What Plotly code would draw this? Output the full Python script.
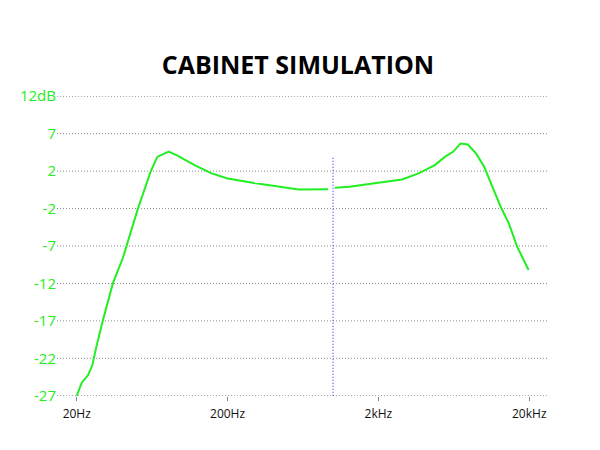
import plotly.graph_objects as go
import numpy as np

# Frequency response (Hz, dB); None marks the gap at 1 kHz
freq_hz = [20, 21.6, 23.8, 25.4, 27.0, 29.9, 34.8, 40.4, 50.6, 55.9, 61.8, 68.4, 81.5,
           92.4, 121.8, 156.6, 200, 300, 471, 591, 928, None,
           1027, 1287, 1644, 2124, 2870, 3690, 4736, 5508, 6252, 7006, 7832, 8872,
           10052, 11404, 12926, 14644, 16620, 19790]
gain_db = [-27, -25.3, -24.3, -23.0, -20.6, -17.1, -12.3, -9.1, -2.8, -0.2, 2.2, 4.1, 4.8,
           4.3, 3.0, 1.95, 1.3, 0.7, 0.13, -0.13, -0.1, None,
           0.08, 0.21, 0.52, 0.86, 1.17, 1.95, 3.03, 4.1, 4.76, 5.85, 5.72, 4.55,
           2.81, 0.21, -2.39, -4.55, -7.59, -10.62]

x_tickvals = [20, 200, 2000, 20000]
x_ticktext = ["20Hz", "200Hz", "2kHz", "20kHz"]
y_min, y_max = -27, 12
y_ticktext = ["12dB", "7", "2", "-2", "-7", "-12", "-17", "-22", "-27"]
marker_freq = 1000
marker_top_db = 4

GREEN = "#22ee22"
y_tickvals = list(np.linspace(y_max, y_min, len(y_ticktext)))

fig = go.Figure()
fig.add_trace(go.Scatter(x=freq_hz, y=gain_db, mode="lines",
                         line=dict(color=GREEN, width=2), connectgaps=False,
                         hoverinfo="skip", showlegend=False))
fig.add_trace(go.Scatter(x=[marker_freq, marker_freq], y=[y_min, marker_top_db], mode="lines",
                         line=dict(color="#1a1aff", width=1, dash="1px,2px"),
                         hoverinfo="skip", showlegend=False))

# dotted horizontal gridlines at every y tick (drawn as shapes so the edge ones show)
for v in y_tickvals:
    fig.add_shape(type="line", xref="paper", x0=0, x1=1, yref="y", y0=v, y1=v,
                  line=dict(color="#8a8a8a", width=1, dash="1px,2px"), layer="below")

x_lo = np.log10(20) - 20 / 153
x_hi = np.log10(20) + 477 / 153
pad = 0.03

fig.update_layout(
    width=600, height=450,
    margin=dict(l=42, r=61, t=88, b=62),
    paper_bgcolor="white", plot_bgcolor="white",
    title=dict(text="<b>CABINET SIMULATION</b>", x=290 / 600, xanchor="center",
               y=1 - 57 / 450, yanchor="middle",
               font=dict(family="Open Sans", size=25, color="black")),
    xaxis=dict(type="log", range=[x_lo, x_hi], tickvals=x_tickvals, ticktext=x_ticktext,
               showgrid=False, zeroline=False, showline=False,
               ticks="outside", ticklen=4, tickcolor="#888888", tickwidth=1,
               ticklabelstandoff=3,
               tickfont=dict(family="Open Sans", size=12, color="#111111")),
    yaxis=dict(range=[y_min - pad, y_max + pad], tickvals=y_tickvals, ticktext=y_ticktext,
               showgrid=False, zeroline=False, showline=False, ticks="",
               tickfont=dict(family="Open Sans", size=15, color=GREEN)),
)

fig.write_html("out.html")
